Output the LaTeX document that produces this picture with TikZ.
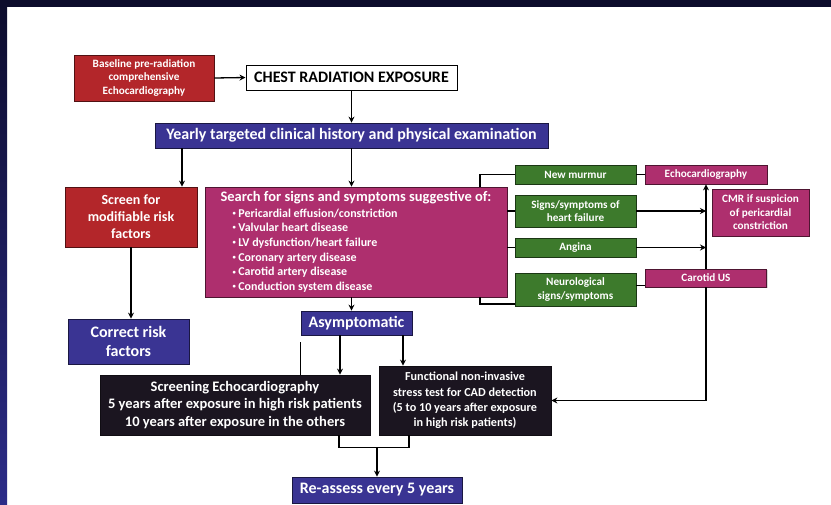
\documentclass[tikz,border=0pt]{standalone}
\usepackage{fontspec}
\setmainfont{Carlito}
\usetikzlibrary{shadows,arrows.meta}
\definecolor{framenavy}{HTML}{0C0C2C}
\definecolor{frameblue}{HTML}{2C2C88}
\definecolor{riskred}{HTML}{B3262A}
\definecolor{signpink}{HTML}{AE2F6E}
\definecolor{symgreen}{HTML}{3D7A2C}
\definecolor{stepblue}{HTML}{3A3493}
\definecolor{testdark}{HTML}{1B1520}
\newcommand{\dotitem}{\hspace*{12pt}\raisebox{1.8pt}{\scalebox{0.55}{•}}\hspace{2.5pt}}

\begin{document}
\begin{tikzpicture}[
    x=1pt, y=-1pt,
    box/.style={rectangle, line width=0.8pt, inner sep=1pt, align=center, text=white,
        drop shadow={opacity=0.3, shadow xshift=1.2pt, shadow yshift=-1.2pt}},
    redbox/.style={box, fill=riskred, draw=riskred!45!black},
    pinkbox/.style={box, fill=signpink, draw=signpink!45!black},
    greenbox/.style={box, fill=symgreen, draw=symgreen!45!black},
    bluebox/.style={box, fill=stepblue, draw=stepblue!45!black},
    darkbox/.style={box, fill=testdark, draw=testdark!60!black},
    whitebox/.style={rectangle, draw=black, line width=1pt, fill=white, align=center},
    bigtext/.style={font=\bfseries\fontsize{16}{19}\selectfont},
    smalltext/.style={font=\bfseries\fontsize{11.2}{13.5}\selectfont},
    arr/.style={draw=black, line width=1.3pt, -{Stealth[length=6pt, width=6pt, inset=2pt]}},
    line/.style={draw=black, line width=1.3pt}
]
\fill[white] (0,0) rectangle (831,504);
\fill[framenavy] (0,0) rectangle (831,7);
\shade[top color=framenavy, bottom color=frameblue] (0,0) rectangle (7,504);
\useasboundingbox (0,0) rectangle (831,504);

\node[redbox, smalltext, minimum width=140pt, minimum height=46pt] (base) at (144,78)
    {Baseline pre-radiation\\comprehensive\\Echocardiography};
\node[whitebox, bigtext, minimum width=211pt, minimum height=25pt] (chest) at (351.5,77.5)
    {CHEST RADIATION EXPOSURE};
\node[bluebox, bigtext, minimum width=393pt, minimum height=25pt] (yearly) at (351.5,135.5)
    {Yearly targeted clinical history and physical examination};
\node[redbox, font=\bfseries\fontsize{14}{17}\selectfont, minimum width=132pt, minimum height=60pt] (screen) at (131,217)
    {Screen for\\modifiable risk\\factors};
\node[pinkbox, align=left, font=\bfseries\fontsize{12}{14.7}\selectfont, minimum width=302pt, minimum height=110pt] (search) at (356,242)
    {{\fontsize{14.5}{16}\selectfont Search for signs and symptoms suggestive of:}\\[0.5pt]
     \dotitem Pericardial effusion/constriction\\
     \dotitem Valvular heart disease\\
     \dotitem LV dysfunction/heart failure\\
     \dotitem Coronary artery disease\\
     \dotitem Carotid artery disease\\
     \dotitem Conduction system disease};
\node[greenbox, smalltext, minimum width=121pt, minimum height=19pt] (murmur) at (575.5,174.5)
    {New murmur};
\node[greenbox, smalltext, minimum width=121pt, minimum height=32pt] (failure) at (575.5,211)
    {Signs/symptoms of\\heart failure};
\node[greenbox, smalltext, minimum width=121pt, minimum height=19pt] (angina) at (575.5,247.5)
    {Angina};
\node[greenbox, smalltext, minimum width=121pt, minimum height=33pt] (neuro) at (575.5,289.5)
    {Neurological\\signs/symptoms};
\node[pinkbox, smalltext, minimum width=122pt, minimum height=19pt] (echo) at (706,174.5)
    {Echocardiography};
\node[pinkbox, smalltext, minimum width=97pt, minimum height=47pt] (cmr) at (760.5,212.5)
    {CMR if suspicion\\of pericardial\\constriction};
\node[pinkbox, smalltext, minimum width=121pt, minimum height=18pt] (carotid) at (706,278)
    {Carotid US};
\node[bluebox, bigtext, minimum width=111pt, minimum height=24pt] (asymp) at (356.5,323)
    {Asymptomatic};
\node[bluebox, bigtext, minimum width=121pt, minimum height=45pt] (correct) at (128.5,341.5)
    {Correct risk\\factors};
\node[darkbox, font=\bfseries\fontsize{14.5}{17.5}\selectfont, minimum width=270pt, minimum height=60pt] (screening) at (235,405)
    {Screening Echocardiography\\5 years after exposure in high risk patients\\10 years after exposure in the others};
\node[darkbox, font=\bfseries\fontsize{12.2}{15.3}\selectfont, minimum width=172pt, minimum height=69pt] (functional) at (465,400.5)
    {Functional non-invasive\\stress test for CAD detection\\(5 to 10 years after exposure\\in high risk patients)};
\node[bluebox, bigtext, minimum width=170pt, minimum height=26pt] (reassess) at (377,490)
    {Re-assess every 5 years};

\coordinate (brx) at (480,0);
\coordinate (nc) at ([yshift=4pt]neuro.east);
\coordinate (mrg) at ([yshift=-12pt]screening.south);

\draw[line] (murmur.west) -| (brx |- search.north);
\draw[line] ([yshift=-14.5pt]neuro.west) -| (brx |- search.south);
\draw[line] (search.east |- failure.west) -- (failure.west);
\draw[line] (search.east |- angina.west) -- (angina.west);
\draw[line] (murmur.east) -- (echo.west);
\draw[line] (nc) -- (nc -| carotid.west);
\draw[arr] (failure.east) -- (failure.east -| echo.south);
\draw[arr] (angina.east) -- (angina.east -| echo.south);
\draw[arr] (carotid.north) -- (echo.south);
\draw[arr] (carotid.south) |- (functional.east);

\draw[arr] (base.east) -- (chest.west);
\draw[arr] (chest.south) -- (yearly.north -| chest.south);
\draw[arr] ([xshift=51pt]screen.north |- yearly.south) -- ([xshift=51pt]screen.north);
\draw[arr] (yearly.south -| chest.south) -- (search.north -| chest.south);
\draw[arr] (screen.south) -- (screen.south |- correct.north);
\draw[arr] (search.south -| chest.south) -- (asymp.north -| chest.south);
\draw[arr] ([xshift=-16.5pt]asymp.south) -- ([xshift=-16.5pt]asymp.south |- screening.north);
\draw[arr] ([xshift=46.5pt]asymp.south) -- ([xshift=46.5pt]asymp.south |- functional.north);
\draw[line] ([yshift=-7pt]asymp.south west) -- (asymp.south west |- screening.north);
\draw[line] ([xshift=104pt]screening.south) |- ([xshift=-56pt]functional.south |- mrg) -- ([xshift=-56pt]functional.south);
\draw[arr] (reassess.north |- mrg) -- (reassess.north);
\end{tikzpicture}
\end{document}
